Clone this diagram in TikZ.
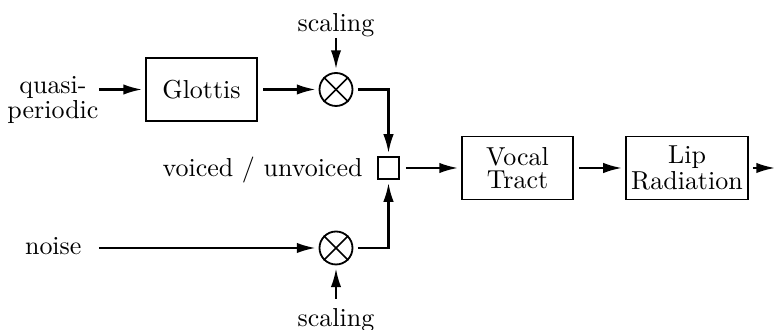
\documentclass[tikz,border=0pt]{standalone}
\usetikzlibrary{arrows.meta}
\begin{document}
\begin{tikzpicture}[x=0.385pt,y=-0.385pt,
  every node/.style={font=\fontsize{10}{8.7}\selectfont},
  blk/.style={draw, line width=0.7pt, inner sep=0pt, align=center, minimum height=24.3pt},
  mult/.style={draw, circle, line width=0.7pt, minimum size=12.7pt, inner sep=0pt},
  swbox/.style={draw, line width=0.7pt, inner sep=0pt, minimum width=8.1pt, minimum height=8.5pt},
  lbl/.style={inner sep=0pt, align=center},
  arr/.style={-{Latex[length=7.2pt,width=4pt]}, line width=0.8pt, shorten >=1.2pt},
]
\useasboundingbox (0,0) rectangle (775,330);

% processing blocks
\node[blk, minimum width=42.7pt] (glot) at (201.5,89.5) {Glottis};
\node[blk, minimum width=42.7pt] (vt) at (517.5,168) {Vocal\\Tract};
\node[blk, minimum width=47pt] (lip) at (687,168) {Lip\\Radiation};

% gain stages
\node[mult] (m1) at (336,89.5) {};
\node[mult] (m2) at (336,248) {};
\foreach \m in {m1,m2}{
  \draw[line width=0.6pt] (\m.north east) -- (\m.south west);
  \draw[line width=0.6pt] (\m.north west) -- (\m.south east);
}

% voiced/unvoiced switch
\node[swbox] (sw) at (388.5,168) {};

% labels
\node[lbl, anchor=east] (qp) at (99,100) {quasi-\\periodic};
\node[lbl, anchor=base east] (ns) at (82,255) {noise};
\node[lbl, anchor=base east] (vu) at (363,177) {voiced / unvoiced};
\node[lbl, anchor=base] (sc1) at (336,32) {scaling};
\node[lbl, anchor=base] (sc2) at (336,327) {scaling};
\coordinate (out) at (775,168);

% signal flow
\draw[arr] (qp.east |- glot.west) -- (glot.west);
\draw[arr, shorten <=2pt] (glot.east) -- (m1.west);
\draw[arr] (sc1.south) -- (m1.north);
\draw[arr, shorten <=6.5pt] (ns.east |- m2.west) -- (m2.west);
\draw[arr, shorten <=3.8pt] (sc2.north) -- (m2.south);
\draw[arr, shorten <=1.7pt] (m1.east) -| (sw.north);
\draw[arr, shorten <=1.7pt] (m2.east) -| (sw.south);
\draw[arr, shorten <=2.3pt] (sw.east) -- (vt.west);
\draw[arr, shorten <=2pt] (vt.east) -- (lip.west);
\draw[arr, shorten <=1.5pt, shorten >=0pt] (lip.east) -- (out);
\end{tikzpicture}
\end{document}
